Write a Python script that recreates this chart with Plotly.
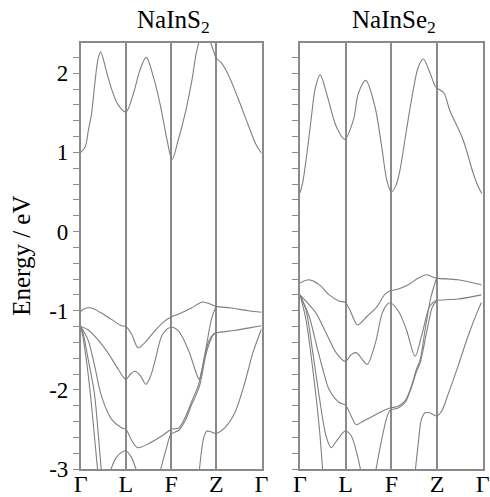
import numpy as np
import plotly.graph_objects as go

# ---------------- data ----------------
KPATH_LABELS = ["Γ", "L", "F", "Z", "Γ"]
KPATH_POS = [0, 1, 2, 3, 4]
ENERGY_TICKS = [-3, -2, -1, 0, 1, 2]
ENERGY_TICKTEXT = ["-3", "-2", "-1", "0", "1", "2"]
TITLES = ["NaInS<sub>2</sub>", "NaInSe<sub>2</sub>"]

# NaInS2 bands (k along path, energy in eV)
S_CB_k = [0, 0.1, 0.17, 0.24, 0.32, 0.38, 0.44, 0.58, 0.69, 0.83, 1.0, 1.17, 1.31, 1.45, 1.61, 1.76, 1.91, 2.02,
          2.16, 2.31, 2.46, 2.57, 2.68, 2.78, 2.88, 2.95, 3.0, 3.1, 3.25, 3.47, 3.69, 3.87, 4.0]
S_CB_E = [1.0, 1.07, 1.28, 1.49, 1.91, 2.17, 2.27, 2.0, 1.79, 1.60, 1.51, 1.75, 2.04, 2.20, 1.95, 1.60, 1.16, 0.91,
          1.16, 1.49, 1.91, 2.29, 2.48, 2.50, 2.38, 2.26, 2.19, 2.14, 2.0, 1.70, 1.37, 1.11, 0.99]
S_V1_k = [0, 0.1, 0.24, 0.46, 0.68, 0.9, 1.0, 1.13, 1.27, 1.41, 1.63, 1.85, 2.0, 2.22, 2.44, 2.7, 2.88, 3.0, 3.33, 3.7, 4.0]
S_V1_E = [-1.01, -0.97, -0.966, -1.03, -1.11, -1.19, -1.2, -1.3, -1.47, -1.41, -1.26, -1.135, -1.08, -1.03, -0.97,
          -0.89, -0.92, -0.945, -0.966, -1.0, -1.02]
S_V2_k = [0, 0.16, 0.38, 0.6, 0.83, 1.0, 1.1, 1.2, 1.32, 1.44, 1.55, 1.65, 1.81, 2.0, 2.17, 2.39, 2.57, 2.62, 2.67,
          2.83, 2.93, 3.0, 3.4, 3.7, 4.0]
S_V2_E = [-1.2, -1.24, -1.365, -1.53, -1.74, -1.87, -1.80, -1.765, -1.82, -1.93, -1.82, -1.62, -1.30, -1.21, -1.26,
          -1.51, -1.81, -1.87, -1.78, -1.39, -1.3, -1.28, -1.25, -1.22, -1.19]
S_V3_k = [0, 0.16, 0.31, 0.46, 0.68, 0.9, 1.0, 1.12, 1.26, 1.5, 1.8, 2.0, 2.17, 2.31, 2.46, 2.61, 2.76, 2.9, 3.0]
S_V3_E = [-1.2, -1.365, -1.70, -2.08, -2.37, -2.48, -2.5, -2.63, -2.73, -2.68, -2.58, -2.5, -2.48, -2.35, -2.14,
          -1.93, -1.51, -1.09, -0.945]
S_V4_k = [1.75, 1.89, 2.0, 2.17, 2.31, 2.46, 2.63, 2.79, 2.94, 3.0]
S_V4_E = [-3.05, -2.75, -2.56, -2.51, -2.39, -2.18, -1.95, -1.51, -1.30, -1.28]
S_V5_k = [2.62, 2.72, 2.79, 2.88, 3.0, 3.2, 3.41, 3.63, 3.81, 4.0]
S_V5_E = [-3.05, -2.61, -2.52, -2.53, -2.55, -2.47, -2.29, -1.91, -1.53, -1.23]
S_D1_k = [0, 0.05, 0.12, 0.21, 0.29, 0.38]
S_D1_E = [-1.2, -1.33, -1.6, -2.03, -2.5, -3.05]
S_D2_k = [0, 0.06, 0.16, 0.30, 0.38, 0.46]
S_D2_E = [-1.2, -1.3, -1.6, -2.03, -2.5, -3.05]
S_B_k = [0.64, 0.78, 0.9, 1.0, 1.12, 1.25]
S_B_E = [-3.05, -2.86, -2.79, -2.77, -2.85, -3.05]

# NaInSe2 bands
Se_CB_k = [0, 0.06, 0.15, 0.25, 0.33, 0.44, 0.58, 0.66, 0.8, 0.98, 1.17, 1.28, 1.44, 1.64, 1.79, 1.9, 2.0, 2.1,
           2.19, 2.33, 2.48, 2.59, 2.70, 2.85, 2.97, 3.15, 3.28, 3.57, 3.79, 3.9, 3.98]
Se_CB_E = [0.49, 0.62, 0.98, 1.45, 1.8, 1.98, 1.75, 1.58, 1.32, 1.165, 1.41, 1.75, 1.91, 1.58, 1.07, 0.65, 0.50, 0.58,
           0.78, 1.28, 1.79, 2.08, 2.18, 2.0, 1.83, 1.75, 1.53, 1.16, 0.74, 0.57, 0.48]
Se_V1_k = [0, 0.2, 0.42, 0.64, 0.86, 0.99, 1.1, 1.26, 1.47, 1.69, 1.86, 1.97, 2.15, 2.37, 2.59, 2.77, 2.88, 2.99,
           3.46, 3.97]
Se_V1_E = [-0.65, -0.61, -0.67, -0.80, -0.88, -0.895, -1.0, -1.18, -1.07, -0.945, -0.79, -0.75, -0.727, -0.672,
           -0.588, -0.546, -0.567, -0.588, -0.61, -0.672]
Se_V2_k = [0, 0.13, 0.35, 0.57, 0.79, 0.99, 1.12, 1.23, 1.37, 1.47, 1.65, 1.8, 1.91, 1.97, 2.15, 2.33, 2.52, 2.66,
           2.84, 2.95, 2.99, 3.46, 3.97]
Se_V2_E = [-0.80, -0.88, -1.03, -1.28, -1.53, -1.64, -1.555, -1.53, -1.62, -1.68, -1.41, -1.03, -0.92, -0.90, -1.0,
           -1.24, -1.576, -1.32, -0.945, -0.88, -0.87, -0.853, -0.80]
Se_V3_k = [0, 0.2, 0.35, 0.5, 0.64, 0.86, 0.99, 1.12, 1.23, 1.37, 1.6, 1.8, 1.97, 2.15, 2.3, 2.44, 2.55, 2.63, 2.75,
           2.87, 2.99]
Se_V3_E = [-0.80, -1.07, -1.41, -1.74, -2.0, -2.16, -2.19, -2.33, -2.44, -2.40, -2.33, -2.27, -2.23, -2.207, -2.14,
           -1.95, -1.74, -1.62, -1.2, -0.82, -0.59]
Se_V4_k = [1.65, 1.76, 1.9, 1.97, 2.15, 2.3, 2.44, 2.55, 2.63, 2.78, 2.9, 2.99]
Se_V4_E = [-3.05, -2.71, -2.35, -2.26, -2.23, -2.16, -1.97, -1.77, -1.66, -1.25, -0.95, -0.88]
Se_V5_k = [2.52, 2.59, 2.66, 2.74, 2.84, 2.99, 3.1, 3.24, 3.46, 3.68, 3.9, 3.97]
Se_V5_E = [-3.05, -2.67, -2.37, -2.29, -2.29, -2.33, -2.27, -2.06, -1.70, -1.32, -0.99, -0.90]
Se_D1_k = [0, 0.13, 0.28, 0.42, 0.5]
Se_D1_E = [-0.8, -1.11, -1.74, -2.46, -3.05]
Se_D2_k = [0, 0.13, 0.28, 0.42, 0.57, 0.68, 0.82, 0.99, 1.12, 1.26, 1.34]
Se_D2_E = [-0.8, -0.99, -1.53, -2.08, -2.58, -2.73, -2.63, -2.52, -2.58, -2.84, -3.05]

# ---------------- figure ----------------
S_BANDS = [(S_CB_k, S_CB_E), (S_V1_k, S_V1_E), (S_V2_k, S_V2_E), (S_V3_k, S_V3_E), (S_V4_k, S_V4_E),
           (S_V5_k, S_V5_E), (S_D1_k, S_D1_E), (S_D2_k, S_D2_E), (S_B_k, S_B_E)]
SE_BANDS = [(Se_CB_k, Se_CB_E), (Se_V1_k, Se_V1_E), (Se_V2_k, Se_V2_E), (Se_V3_k, Se_V3_E), (Se_V4_k, Se_V4_E),
            (Se_V5_k, Se_V5_E), (Se_D1_k, Se_D1_E), (Se_D2_k, Se_D2_E)]

BAND_COLOR = "#7f7f7f"
FRAME_COLOR = "#8a8a8a"
FONT = "Liberation Serif"

fig = go.Figure()
for bands, xa, ya in [(S_BANDS, "x", "y"), (SE_BANDS, "x2", "y2")]:
    for k, e in bands:
        fig.add_trace(go.Scatter(x=k, y=e, mode="lines", xaxis=xa, yaxis=ya,
                                 line=dict(color=BAND_COLOR, width=1.1, shape="spline", smoothing=0.9),
                                 showlegend=False, hoverinfo="skip"))

W, H = 490, 497
xdom1 = [80.7 / W, 261.5 / W]
xdom2 = [300.0 / W, 482.7 / W]
ydom = [1 - 469.0 / H, 1 - 42.7 / H]
yrange = [-3, 2.386]
minor_vals = [round(v, 1) for v in np.arange(-3.0, 2.39, 0.2)]

xaxis_common = dict(range=[0, 4], tickmode="array", tickvals=KPATH_POS, ticktext=KPATH_LABELS,
                    showgrid=True, gridcolor=FRAME_COLOR, gridwidth=1.5, zeroline=False,
                    showline=True, mirror=True, linecolor=FRAME_COLOR, linewidth=1.6, automargin=False,
                    ticks="", ticklabelstandoff=-8,
                    tickfont=dict(family=FONT, size=24, color="black"))
yaxis_common = dict(range=yrange, domain=ydom, tickmode="array", tickvals=ENERGY_TICKS, automargin=False,
                    ticktext=ENERGY_TICKTEXT, ticks="outside", ticklen=6, tickwidth=1, tickcolor=FRAME_COLOR,
                    minor=dict(tickmode="array", tickvals=minor_vals, ticks="outside", ticklen=6,
                               tickwidth=1, tickcolor=FRAME_COLOR, showgrid=False),
                    showgrid=False, zeroline=False, showline=True, mirror=True,
                    linecolor=FRAME_COLOR, linewidth=1.6,
                    tickfont=dict(family=FONT, size=23, color="black"))

fig.update_layout(
    width=W, height=H, margin=dict(l=0, r=0, t=0, b=0, autoexpand=False),
    paper_bgcolor="white", plot_bgcolor="white",
    xaxis=dict(domain=xdom1, anchor="y", **xaxis_common),
    xaxis2=dict(domain=xdom2, anchor="y2", **xaxis_common),
    yaxis=dict(anchor="x", showticklabels=True, **yaxis_common),
    yaxis2=dict(anchor="x2", showticklabels=False, **yaxis_common),
)

for title, dom in zip(TITLES, [xdom1, xdom2]):
    fig.add_annotation(text=title, xref="paper", yref="paper", x=(dom[0] + dom[1]) / 2 + 0.005,
                       y=1 - 22.0 / H, xanchor="center", yanchor="middle", showarrow=False,
                       font=dict(family=FONT, size=25, color="black"))

fig.add_annotation(text="Energy / eV", xref="paper", yref="paper", x=22.0 / W, y=(ydom[0] + ydom[1]) / 2,
                   xanchor="center", yanchor="middle", textangle=-90, showarrow=False,
                   font=dict(family=FONT, size=25, color="black"))

fig.write_html("out.html")
